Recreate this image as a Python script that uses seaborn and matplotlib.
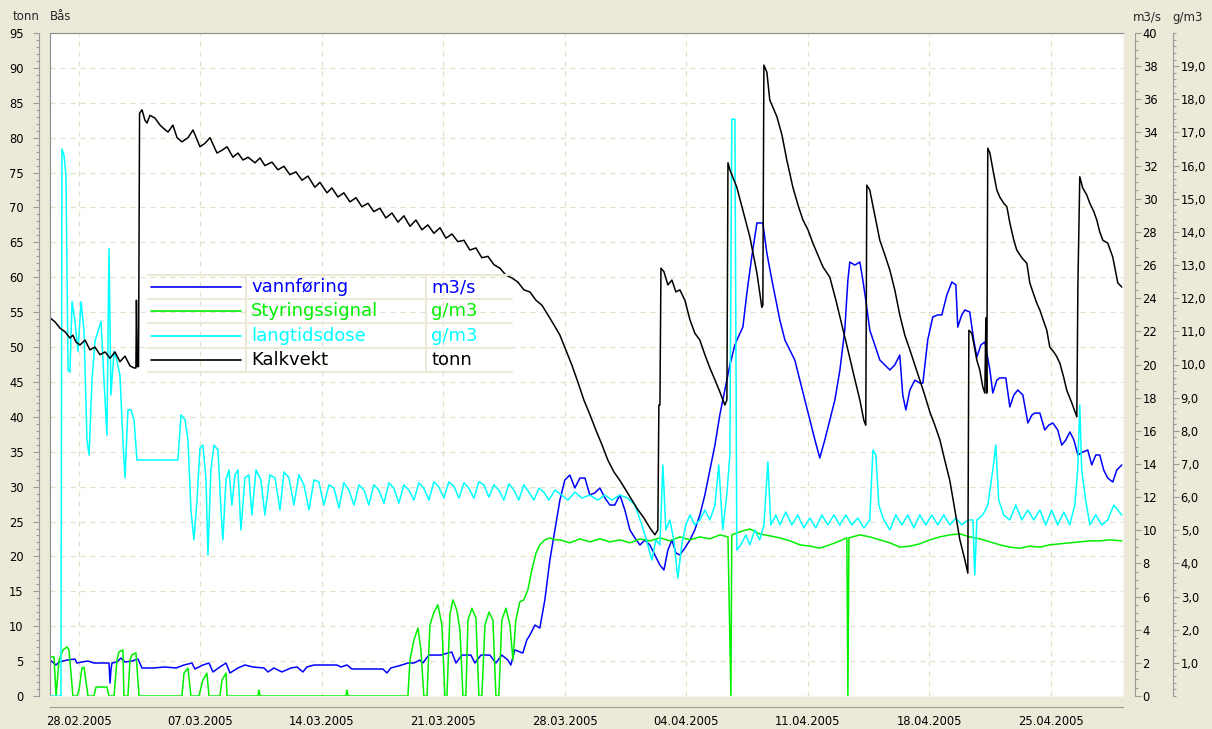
import matplotlib
matplotlib.use("Agg")
import numpy as np
import pandas as pd
import matplotlib.pyplot as plt
import matplotlib.dates as mdates
from matplotlib.ticker import MultipleLocator, FixedLocator, FuncFormatter
from matplotlib.lines import Line2D
import seaborn as sns

# start of the time axis (days are counted from this date)
start = pd.Timestamp("2005-02-28")

# Kalkvekt (tonn, left axis)
kalk_days = [-1.67, -1.38, -1.09, -0.81, -0.52, -0.35, -0.17, 0.06, 0.35, 0.63,
             0.92, 1.21, 1.50, 1.79, 2.07, 2.36, 2.65, 2.94, 3.17, 3.28,
             3.31, 3.36, 3.43, 3.49, 3.63, 3.80, 3.92, 4.09, 4.38, 4.67,
             4.84, 5.13, 5.41, 5.65, 5.93, 6.28, 6.57, 6.97, 7.26, 7.55,
             7.95, 8.24, 8.53, 8.87, 9.16, 9.45, 9.74, 10.14, 10.43, 10.71,
             11.12, 11.46, 11.81, 12.15, 12.50, 12.85, 13.19, 13.59, 13.88, 14.29,
             14.57, 14.92, 15.26, 15.61, 15.96, 16.30, 16.65, 16.99, 17.34, 17.68,
             18.03, 18.38, 18.72, 19.07, 19.41, 19.76, 20.10, 20.45, 20.80, 21.14,
             21.49, 21.83, 22.18, 22.52, 22.87, 23.21, 23.56, 23.91, 24.25, 24.60,
             24.94, 25.29, 25.63, 25.98, 26.33, 26.67, 27.02, 27.36, 27.71, 28.05,
             28.40, 28.74, 29.09, 29.44, 29.78, 30.13, 30.47, 30.82, 31.16, 31.51,
             31.85, 32.20, 32.55, 32.89, 33.18, 33.35, 33.41, 33.47, 33.53, 33.70,
             33.93, 34.16, 34.39, 34.62, 34.91, 35.20, 35.48, 35.77, 36.06, 36.35,
             36.64, 36.92, 37.21, 37.33, 37.36, 37.39, 37.50, 37.90, 38.25, 38.65,
             39.06, 39.34, 39.40, 39.46, 39.63, 39.80, 40.21, 40.50, 40.78, 41.13,
             41.42, 41.71, 42.00, 42.28, 42.57, 42.86, 43.26, 43.61, 43.95, 44.30,
             44.64, 44.99, 45.22, 45.33, 45.39, 45.56, 45.85, 46.14, 46.43, 46.72,
             47.00, 47.29, 47.58, 47.87, 48.16, 48.44, 48.73, 49.02, 49.31, 49.60,
             49.88, 50.17, 50.46, 50.75, 51.04, 51.21, 51.27, 51.44, 51.73, 51.90,
             52.07, 52.19, 52.25, 52.30, 52.36, 52.48, 52.71, 52.88, 53.05, 53.28,
             53.46, 53.63, 53.86, 54.03, 54.32, 54.61, 54.78, 55.01, 55.18, 55.36,
             55.59, 55.76, 55.93, 56.16, 56.34, 56.51, 56.74, 56.91, 57.20, 57.49,
             57.55, 57.66, 57.83, 58.06, 58.24, 58.47, 58.64, 58.81, 58.99, 59.27,
             59.56, 59.85, 60.08]
kalk_tonn = [54.2, 53.6, 52.7, 52.2, 51.3, 51.7, 50.7, 50.3, 51.0, 49.6,
             50.0, 48.9, 49.3, 48.4, 49.3, 47.9, 48.7, 47.3, 47.0, 47.0,
             56.7, 47.2, 47.2, 83.5, 84.0, 82.5, 82.1, 83.2, 82.8, 81.8,
             81.4, 80.8, 81.8, 80.0, 79.4, 80.0, 81.1, 78.7, 79.2, 80.0,
             77.8, 78.2, 78.7, 77.2, 77.8, 76.8, 77.2, 76.4, 77.1, 76.0,
             76.5, 75.4, 75.9, 74.7, 75.1, 73.9, 74.5, 72.9, 73.6, 72.1,
             72.8, 71.5, 72.1, 70.8, 71.4, 70.1, 70.6, 69.4, 69.9, 68.5,
             69.2, 67.9, 68.8, 67.3, 68.2, 66.8, 67.5, 66.3, 67.1, 65.6,
             66.2, 65.1, 65.3, 63.9, 64.2, 62.8, 63.0, 61.8, 61.3, 60.3,
             59.9, 59.3, 58.2, 57.9, 56.7, 56.0, 54.6, 53.2, 51.7, 49.6,
             47.4, 45.0, 42.4, 40.3, 38.1, 36.0, 33.8, 32.1, 30.9, 29.5,
             28.1, 26.7, 25.5, 24.1, 23.1, 23.8, 41.7, 41.7, 61.3, 60.8,
             58.9, 59.6, 57.9, 58.2, 56.7, 53.9, 52.0, 51.0, 48.9, 47.0,
             45.3, 43.6, 41.7, 42.4, 59.6, 76.4, 75.4, 72.9, 69.6, 65.8,
             60.6, 55.7, 56.0, 90.4, 89.4, 85.4, 83.0, 80.4, 76.8, 72.9,
             70.4, 68.2, 66.8, 64.9, 63.2, 61.5, 60.0, 56.7, 53.2, 49.6,
             46.0, 42.4, 39.5, 38.8, 73.2, 72.5, 68.9, 65.3, 63.2, 61.0,
             58.2, 54.6, 51.7, 49.6, 47.4, 45.3, 43.1, 40.7, 38.8, 36.7,
             33.8, 30.9, 26.7, 22.4, 19.5, 17.6, 52.4, 52.0, 48.1, 46.7,
             44.3, 43.4, 54.2, 43.4, 78.5, 77.8, 74.7, 72.5, 71.5, 70.6,
             70.1, 67.8, 65.3, 63.9, 62.8, 62.0, 59.2, 57.5, 56.3, 55.3,
             53.6, 52.4, 50.0, 49.3, 48.6, 47.7, 45.6, 43.8, 42.0, 40.0,
             58.6, 74.4, 72.8, 71.8, 70.6, 69.4, 68.2, 66.5, 65.3, 64.9,
             62.9, 59.2, 58.6]

# vannføring (m3/s)
vann_days = [-1.67, -1.32, -1.15, -0.69, -0.23, -0.12, 0.17, 0.52, 0.86, 1.50,
             1.73, 1.79, 1.84, 1.90, 2.19, 2.42, 2.65, 3.05, 3.40, 3.63,
             4.26, 4.95, 5.59, 6.05, 6.51, 6.68, 7.14, 7.49, 7.72, 8.12,
             8.47, 8.70, 9.16, 9.56, 10.02, 10.66, 10.89, 11.23, 11.69, 12.21,
             12.56, 12.90, 13.13, 13.54, 14.86, 15.09, 15.44, 15.72, 17.51, 17.74,
             17.97, 18.60, 18.95, 19.30, 19.64, 19.81, 20.16, 20.85, 21.25, 21.48,
             21.72, 22.06, 22.58, 22.81, 23.16, 23.67, 24.02, 24.36, 24.71, 24.88,
             25.11, 25.57, 25.80, 25.98, 26.27, 26.55, 26.84, 27.13, 27.42, 27.71,
             27.99, 28.28, 28.57, 28.86, 29.15, 29.43, 29.72, 30.01, 30.30, 30.59,
             30.87, 31.16, 31.45, 31.74, 32.03, 32.32, 32.60, 32.89, 33.18, 33.47,
             33.70, 33.93, 34.16, 34.39, 34.62, 34.91, 35.20, 35.48, 35.77, 36.06,
             36.35, 36.64, 36.92, 37.21, 37.50, 37.79, 37.96, 38.25, 38.48, 38.76,
             39.06, 39.40, 39.63, 39.92, 40.38, 40.67, 40.96, 41.24, 41.53, 41.82,
             42.11, 42.40, 42.68, 42.97, 43.26, 43.55, 43.84, 44.12, 44.30, 44.41,
             44.70, 44.99, 45.16, 45.33, 45.56, 45.85, 46.14, 46.43, 46.72, 47.00,
             47.29, 47.46, 47.64, 47.87, 48.16, 48.44, 48.62, 48.90, 49.19, 49.48,
             49.71, 50.00, 50.29, 50.52, 50.63, 50.86, 51.04, 51.32, 51.55, 51.73,
             51.96, 52.19, 52.48, 52.65, 52.88, 53.05, 53.40, 53.63, 53.86, 54.09,
             54.38, 54.67, 54.90, 55.07, 55.36, 55.64, 55.88, 56.11, 56.39, 56.62,
             56.86, 57.09, 57.32, 57.55, 57.83, 58.12, 58.35, 58.58, 58.81, 59.04,
             59.27, 59.56, 59.79, 60.08]
vann_m3s = [2.17, 1.87, 2.05, 2.17, 2.23, 1.99, 2.05, 2.11, 1.99, 1.99,
            1.99, 0.78, 1.57, 1.99, 2.05, 2.29, 2.05, 2.11, 2.23, 1.69,
            1.69, 1.75, 1.69, 1.87, 1.99, 1.63, 1.87, 1.99, 1.45, 1.75,
            1.99, 1.39, 1.69, 1.87, 1.75, 1.69, 1.45, 1.69, 1.45, 1.69,
            1.75, 1.45, 1.75, 1.87, 1.87, 1.75, 1.87, 1.63, 1.63, 1.39,
            1.69, 1.87, 1.99, 1.99, 2.17, 1.99, 2.47, 2.47, 2.59, 2.65,
            1.99, 2.47, 2.47, 1.99, 2.47, 2.47, 1.99, 2.47, 2.17, 1.87,
            2.78, 2.59, 3.38, 3.68, 4.28, 4.10, 5.79, 8.21, 10.02, 11.83,
            13.03, 13.33, 12.55, 13.15, 13.15, 12.13, 12.25, 12.55, 11.95, 11.52,
            11.52, 12.13, 11.22, 10.02, 9.53, 9.11, 9.41, 9.11, 8.51, 7.90,
            7.60, 8.81, 9.41, 8.63, 8.51, 8.93, 9.41, 10.02, 10.92, 12.13,
            13.63, 15.14, 16.95, 18.46, 19.97, 21.18, 21.60, 22.26, 24.31, 26.49,
            28.54, 28.54, 26.73, 25.10, 22.68, 21.48, 20.87, 20.27, 19.06, 17.86,
            16.65, 15.45, 14.36, 15.45, 16.65, 17.86, 19.67, 22.08, 25.10, 26.18,
            26.00, 26.18, 25.10, 23.89, 22.08, 21.18, 20.27, 19.97, 19.67, 19.97,
            20.57, 18.16, 17.26, 18.46, 19.06, 18.88, 18.88, 21.48, 22.87, 22.99,
            22.99, 24.19, 24.98, 24.80, 22.26, 22.99, 23.29, 23.17, 21.48, 20.45,
            21.18, 21.36, 19.67, 18.28, 19.06, 19.19, 19.19, 17.44, 18.16, 18.46,
            18.16, 16.47, 16.95, 17.07, 17.07, 16.05, 16.35, 16.47, 16.05, 15.14,
            15.45, 15.93, 15.45, 14.54, 14.72, 14.84, 13.94, 14.54, 14.54, 13.63,
            13.15, 12.91, 13.63, 13.94]

# Styringssignal (g/m3)
styr_days = [-1.67, -1.44, -1.32, -1.15, -0.92, -0.69, -0.58, -0.46, -0.35, -0.12,
             0.00, 0.17, 0.29, 0.52, 0.86, 0.98, 1.61, 1.73, 2.02, 2.19,
             2.30, 2.53, 2.59, 2.82, 2.94, 3.05, 3.28, 3.46, 5.93, 6.05,
             6.28, 6.45, 6.91, 7.14, 7.37, 7.49, 8.12, 8.24, 8.47, 8.53,
             10.31, 10.37, 10.43, 15.38, 15.44, 15.50, 18.95, 19.07, 19.30, 19.53,
             19.70, 19.87, 20.05, 20.22, 20.45, 20.68, 20.91, 21.08, 21.20, 21.37,
             21.54, 21.77, 21.95, 22.12, 22.29, 22.41, 22.64, 22.87, 23.04, 23.21,
             23.39, 23.62, 23.85, 24.02, 24.19, 24.36, 24.60, 24.83, 25.00, 25.17,
             25.40, 25.63, 25.86, 26.09, 26.33, 26.55, 26.84, 27.13, 27.42, 27.71,
             28.28, 28.86, 29.43, 30.01, 30.59, 31.16, 31.74, 32.32, 32.89, 33.47,
             34.04, 34.62, 35.20, 35.77, 36.35, 36.92, 37.39, 37.50, 37.56, 37.61,
             38.07, 38.65, 39.22, 39.80, 40.38, 40.96, 41.53, 42.11, 42.68, 43.26,
             43.84, 44.24, 44.30, 44.36, 44.99, 45.56, 46.14, 46.72, 47.29, 47.87,
             48.44, 49.02, 49.60, 50.17, 50.75, 51.32, 51.90, 52.48, 53.05, 53.63,
             54.21, 54.78, 55.36, 55.93, 56.51, 57.09, 57.66, 58.24, 58.81, 59.39,
             60.08]
styr_gm3 = [1.18, 1.18, 0.00, 1.09, 1.39, 1.48, 1.39, 0.69, 0.00, 0.00,
            0.18, 0.84, 0.87, 0.00, 0.00, 0.27, 0.27, 0.00, 0.00, 1.09,
            1.33, 1.39, 0.00, 0.00, 1.09, 1.24, 1.30, 0.00, 0.00, 0.69,
            0.84, 0.00, 0.00, 0.48, 0.69, 0.00, 0.00, 0.48, 0.69, 0.00,
            0.00, 0.18, 0.00, 0.00, 0.18, 0.00, 0.00, 1.09, 1.69, 2.05,
            1.39, 0.00, 0.00, 2.14, 2.53, 2.75, 2.14, 0.00, 0.00, 2.44,
            2.90, 2.59, 1.99, 0.00, 0.00, 2.29, 2.65, 2.35, 0.00, 0.00,
            2.14, 2.53, 2.29, 0.00, 0.00, 2.29, 2.65, 2.14, 1.09, 2.29,
            2.84, 2.90, 3.20, 3.80, 4.31, 4.56, 4.71, 4.77, 4.71, 4.71,
            4.62, 4.74, 4.65, 4.74, 4.65, 4.71, 4.62, 4.74, 4.68, 4.77,
            4.68, 4.80, 4.71, 4.80, 4.74, 4.86, 4.80, 1.69, 0.00, 4.86,
            4.95, 5.04, 4.89, 4.83, 4.77, 4.68, 4.56, 4.52, 4.46, 4.56,
            4.68, 4.77, 0.00, 4.77, 4.86, 4.80, 4.71, 4.62, 4.49, 4.52,
            4.59, 4.71, 4.80, 4.86, 4.89, 4.80, 4.74, 4.65, 4.56, 4.49,
            4.46, 4.52, 4.49, 4.56, 4.59, 4.62, 4.65, 4.68, 4.68, 4.71,
            4.68]

# langtidsdose (g/m3)
lang_days = [-1.67, -1.04, -0.98, -0.86, -0.75, -0.63, -0.52, -0.40, -0.23, -0.06,
             0.12, 0.29, 0.46, 0.58, 0.75, 0.92, 1.09, 1.27, 1.44, 1.61,
             1.73, 1.84, 2.02, 2.19, 2.36, 2.53, 2.65, 2.82, 3.00, 3.17,
             3.34, 5.70, 5.88, 6.11, 6.28, 6.45, 6.62, 6.80, 6.97, 7.14,
             7.32, 7.43, 7.60, 7.78, 8.01, 8.18, 8.29, 8.47, 8.64, 8.81,
             8.99, 9.16, 9.33, 9.56, 9.79, 9.96, 10.20, 10.48, 10.71, 11.00,
             11.29, 11.58, 11.81, 12.10, 12.38, 12.67, 12.96, 13.25, 13.54, 13.82,
             14.11, 14.40, 14.69, 14.98, 15.26, 15.55, 15.84, 16.13, 16.42, 16.70,
             16.99, 17.28, 17.57, 17.86, 18.14, 18.43, 18.72, 19.01, 19.30, 19.58,
             19.87, 20.16, 20.45, 20.74, 21.02, 21.31, 21.60, 21.89, 22.18, 22.46,
             22.75, 23.04, 23.33, 23.62, 23.90, 24.19, 24.48, 24.77, 25.06, 25.34,
             25.63, 25.92, 26.21, 26.50, 26.78, 27.07, 27.42, 27.82, 28.17, 28.57,
             28.97, 29.43, 29.89, 30.30, 30.70, 31.16, 31.62, 32.03, 32.43, 32.77,
             33.00, 33.24, 33.47, 33.64, 33.81, 34.04, 34.27, 34.50, 34.73, 34.96,
             35.20, 35.48, 35.77, 36.06, 36.35, 36.64, 36.86, 37.09, 37.32, 37.50,
             37.61, 37.79, 37.90, 38.13, 38.42, 38.65, 38.94, 39.22, 39.46, 39.69,
             39.86, 40.15, 40.38, 40.72, 41.07, 41.41, 41.76, 42.11, 42.45, 42.80,
             43.14, 43.49, 43.83, 44.18, 44.53, 44.87, 45.22, 45.56, 45.74, 45.91,
             46.08, 46.37, 46.72, 47.06, 47.41, 47.75, 48.10, 48.44, 48.79, 49.13,
             49.48, 49.82, 50.17, 50.52, 50.86, 51.21, 51.50, 51.61, 51.73, 52.07,
             52.36, 52.65, 52.82, 52.99, 53.28, 53.63, 53.97, 54.32, 54.66, 55.01,
             55.36, 55.70, 56.04, 56.39, 56.74, 57.08, 57.37, 57.54, 57.66, 57.77,
             58.00, 58.24, 58.58, 58.93, 59.27, 59.62, 59.85, 60.08]
lang_gm3 = [0.00, 0.00, 16.5, 16.3, 15.7, 9.83, 9.77, 11.9, 11.3, 10.4,
            11.9, 11.0, 7.72, 7.27, 9.53, 10.7, 11.0, 11.3, 9.53, 7.87,
            13.5, 9.08, 10.4, 10.1, 9.68, 7.72, 6.58, 8.63, 8.63, 8.33,
            7.12, 7.12, 8.48, 8.33, 7.72, 5.61, 4.71, 5.91, 7.48, 7.57,
            6.52, 4.25, 6.82, 7.57, 7.42, 5.61, 4.71, 6.52, 6.82, 5.76,
            6.67, 6.82, 5.01, 6.58, 6.67, 5.46, 6.82, 6.52, 5.46, 6.67,
            6.58, 5.61, 6.76, 6.58, 5.76, 6.67, 6.37, 5.61, 6.52, 6.46,
            5.76, 6.37, 6.27, 5.67, 6.43, 6.21, 5.76, 6.37, 6.21, 5.76,
            6.37, 6.21, 5.82, 6.43, 6.27, 5.82, 6.37, 6.21, 5.91, 6.43,
            6.27, 5.91, 6.46, 6.30, 5.97, 6.46, 6.33, 5.97, 6.43, 6.27,
            5.97, 6.46, 6.37, 6.00, 6.37, 6.21, 5.91, 6.40, 6.21, 5.91,
            6.37, 6.15, 5.91, 6.27, 6.15, 5.91, 6.21, 6.06, 5.91, 6.15,
            5.97, 6.06, 5.91, 6.06, 5.91, 6.06, 5.97, 5.76, 5.16, 4.56,
            4.10, 4.71, 4.56, 6.97, 5.01, 5.31, 4.71, 3.56, 4.56, 5.16,
            5.46, 5.16, 5.31, 5.61, 5.31, 5.76, 6.97, 5.01, 6.06, 7.27,
            17.4, 17.4, 4.40, 4.56, 4.86, 4.56, 5.01, 4.71, 5.16, 7.06,
            5.16, 5.46, 5.16, 5.55, 5.16, 5.46, 5.07, 5.37, 5.07, 5.46,
            5.16, 5.46, 5.16, 5.46, 5.16, 5.37, 5.07, 5.31, 7.42, 7.27,
            5.76, 5.31, 5.01, 5.46, 5.16, 5.46, 5.07, 5.46, 5.16, 5.46,
            5.16, 5.46, 5.16, 5.37, 5.16, 5.31, 5.31, 3.65, 5.31, 5.46,
            5.76, 6.82, 7.57, 5.91, 5.46, 5.31, 5.76, 5.31, 5.61, 5.31,
            5.61, 5.16, 5.61, 5.16, 5.55, 5.16, 5.76, 6.82, 8.78, 6.82,
            5.91, 5.16, 5.46, 5.16, 5.31, 5.76, 5.61, 5.46]

series_names = ["vannføring", "Styringssignal", "langtidsdose", "Kalkvekt"]
series_units = ["m3/s", "g/m3", "g/m3", "tonn"]
series_colors = ["#0000ff", "#00f000", "#00ffff", "#000000"]

W, H = 1212, 729
BG = "#ece9d8"
GRID = "#e4e0c8"
AXC = "#9a9a9a"


def to_time(days):
    return start + pd.to_timedelta(np.array(days), unit="D")


def fx(x):
    return x / W


def fy(y):
    return 1 - y / H


sns.set_style("white")
plt.rcParams["font.family"] = ["DejaVu Sans"]

fig = plt.figure(figsize=(W / 100, H / 100), dpi=100, facecolor=BG)
rect = [fx(50), fy(696), (1123 - 50) / W, (696 - 33) / H]
ax = fig.add_axes(rect)
ax.set_facecolor("white")
axq = ax.twinx()
axg = ax.twinx()
axk = ax.twinx()

x0 = start + pd.Timedelta(days=-1.67)
x1 = start + pd.Timedelta(days=60.15)

# plot series
sns.lineplot(x=to_time(vann_days), y=vann_m3s, ax=axq, color=series_colors[0],
             linewidth=1.1, estimator=None, sort=False)
sns.lineplot(x=to_time(styr_days), y=styr_gm3, ax=axg, color=series_colors[1],
             linewidth=1.1, estimator=None, sort=False)
sns.lineplot(x=to_time(lang_days), y=lang_gm3, ax=axg, color=series_colors[2],
             linewidth=1.1, estimator=None, sort=False)
sns.lineplot(x=to_time(kalk_days), y=kalk_tonn, ax=axk, color=series_colors[3],
             linewidth=1.1, estimator=None, sort=False)

for a in (ax, axq, axg, axk):
    a.set_xlim(x0, x1)
    a.set_xlabel("")
    a.set_ylabel("")

# left axis tonn
ax.set_ylim(0, 95)
axk.set_ylim(0, 95)
ax.yaxis.set_major_locator(MultipleLocator(5))
ax.yaxis.set_minor_locator(MultipleLocator(1))
for s in ("top", "right"):
    ax.spines[s].set_visible(False)
ax.spines["left"].set_position(("outward", 8))
ax.spines["bottom"].set_position(("outward", 8))
ax.spines["left"].set_color(AXC)
ax.spines["bottom"].set_color(AXC)
ax.tick_params(axis="y", which="major", direction="out", length=4, width=0.8,
               color=AXC, labelsize=8.3, pad=7, labelcolor="#000000")
ax.tick_params(axis="y", which="minor", direction="out", length=2, width=0.8, color=AXC)

# time axis
ax.xaxis.set_major_locator(mdates.WeekdayLocator(byweekday=mdates.MO))
ax.xaxis.set_minor_locator(mdates.DayLocator())
ax.xaxis.set_major_formatter(mdates.DateFormatter("%d.%m.%Y"))
ax.tick_params(axis="x", which="major", direction="out", length=4, width=0.8,
               color=AXC, labelsize=8.3, pad=2, labelcolor="#000000")
ax.tick_params(axis="x", which="minor", direction="out", length=2, width=0.8, color=AXC)

# grid
ax.grid(True, which="major", color=GRID, linestyle=(0, (4, 4)), linewidth=0.9)

# m3/s axis
axq.set_ylim(0, 40)
axq.yaxis.set_major_locator(MultipleLocator(2))
axq.yaxis.set_minor_locator(MultipleLocator(0.5))
for s in ("top", "left", "bottom"):
    axq.spines[s].set_visible(False)
axq.spines["right"].set_position(("outward", 8.6))
axq.spines["right"].set_color(AXC)
axq.tick_params(axis="y", which="major", direction="out", length=4, width=0.8,
                color=AXC, labelsize=8.3, pad=1.5, labelcolor="#000000")
axq.tick_params(axis="y", which="minor", direction="out", length=2, width=0.8, color=AXC)

# g/m3 axis
axg.set_ylim(0, 20)
axg.yaxis.set_major_locator(FixedLocator(list(range(1, 20))))
axg.yaxis.set_minor_locator(MultipleLocator(0.2))
axg.yaxis.set_major_formatter(FuncFormatter(lambda v, p: f"{v:.1f}".replace(".", ",")))
for s in ("top", "left", "bottom"):
    axg.spines[s].set_visible(False)
axg.spines["right"].set_position(("outward", 36))
axg.spines["right"].set_color(AXC)
axg.tick_params(axis="y", which="major", direction="out", length=4, width=0.8,
                color=AXC, labelsize=8.3, pad=1.5, labelcolor="#000000")
axg.tick_params(axis="y", which="minor", direction="out", length=2, width=0.8, color=AXC)

# frame of the plot area drawn by the top axes
axk.tick_params(axis="y", which="both", right=False, labelright=False)
axk.spines["left"].set_color("#8c8c8c")
axk.spines["top"].set_color("#8c8c8c")
axk.spines["right"].set_color("#f4f4f4")
axk.spines["bottom"].set_color("#f4f4f4")

# unit labels
fig.text(fx(13), fy(17), "tonn", fontsize=8.5, va="center", ha="left")
fig.text(fx(50), fy(17), "Bås", fontsize=8.5, va="center", ha="left")
fig.text(fx(1133), fy(17), "m3/s", fontsize=8.5, va="center", ha="left")
fig.text(fx(1172), fy(17), "g/m3", fontsize=8.5, va="center", ha="left")

# legend table
row_y = [287, 311, 336, 360]
sep_y = [275, 299, 323, 348, 372]
for yy in sep_y:
    fig.add_artist(Line2D([fx(148), fx(512)], [fy(yy), fy(yy)], color=BG, lw=1.5))
for xx in (246, 426):
    fig.add_artist(Line2D([fx(xx), fx(xx)], [fy(275), fy(372)], color=BG, lw=1.5))
for name, unit, col, yy in zip(series_names, series_units, series_colors, row_y):
    fig.add_artist(Line2D([fx(151), fx(241)], [fy(yy), fy(yy)], color=col, lw=1.2))
    fig.text(fx(251), fy(yy), name, color=col, fontsize=13, va="center", ha="left")
    fig.text(fx(431), fy(yy), unit, color=col, fontsize=13, va="center", ha="left")

fig.savefig("out.png", dpi=100, facecolor=BG)
